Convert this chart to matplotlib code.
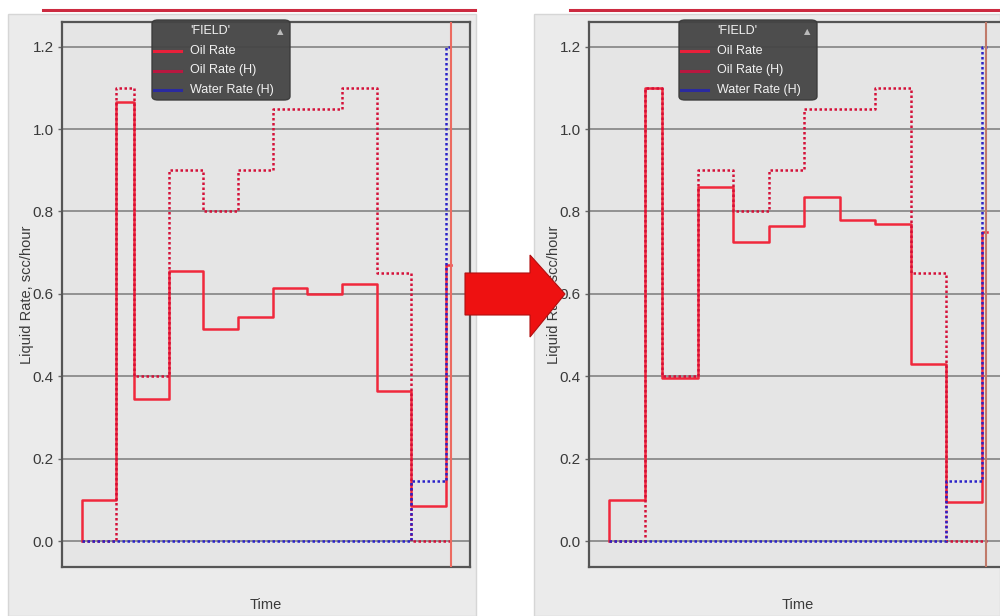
import numpy as np
import matplotlib
matplotlib.use("Agg")
import matplotlib.pyplot as plt
from matplotlib.patches import Rectangle, FancyBboxPatch, Polygon
from matplotlib.lines import Line2D

plt.rcParams['font.family'] = ['Liberation Sans', 'DejaVu Sans']

# report step boundaries (time units) and rates per step, scc/hour
t_edges = [0, 1, 1.5, 2.5, 3.5, 4.5, 5.5, 6.5, 7.5, 8.5, 9.5, 10.5, 10.65]
oil_rate_before = [0.1, 1.065, 0.345, 0.655, 0.515, 0.545, 0.615, 0.6, 0.625, 0.365, 0.085, 0.67]
oil_rate_after = [0.1, 1.1, 0.395, 0.86, 0.725, 0.765, 0.835, 0.78, 0.77, 0.43, 0.095, 0.75]
oil_rate_hist = [0, 1.1, 0.4, 0.9, 0.8, 0.9, 1.05, 1.05, 1.1, 0.65, 0, 0]
water_rate_hist = [0, 0, 0, 0, 0, 0, 0, 0, 0, 0, 0.145, 1.2]
y_ticks = [0.0, 0.2, 0.4, 0.6, 0.8, 1.0, 1.2]
legend_labels = ["Oil Rate", "Oil Rate (H)", "Water Rate (H)"]
t_marker = 10.63

W, H = 1000, 616
fig = plt.figure(figsize=(10, 6.16), dpi=100)
fig.patch.set_facecolor('white')


def px(x, y):
    return x / W, 1 - y / H


def steps(ax, values, **kw):
    x = np.r_[t_edges[0], t_edges]
    y = np.r_[0, values, values[-1]]
    ax.plot(x, y, drawstyle='steps-post', **kw)


def panel(left, right, bar_x0, bar_x1, ax_x0, ax_x1, oil_sim, marker_color):
    # gray window behind the plot + red bar on top
    x0, y0 = px(left, H)
    fig.patches.append(Rectangle((x0, y0), (right - left) / W, (H - 14) / H,
                                 transform=fig.transFigure, facecolor='#ebebeb',
                                 edgecolor='#d6d6d6', lw=1, zorder=-5))
    fig.lines.append(Line2D([bar_x0 / W, bar_x1 / W], [1 - 10 / H] * 2,
                            transform=fig.transFigure, color='#cc2a40', lw=2.2))

    ax = fig.add_axes([ax_x0 / W, 1 - 567 / H, (ax_x1 - ax_x0) / W, (567 - 22) / H])
    ax.set_facecolor('#e5e5e5')
    ax.set_xlim(-0.57, 11.19)
    ax.set_ylim(-0.063, 1.26)
    ax.set_yticks(y_ticks)
    ax.set_yticklabels([f"{v:.1f}" for v in y_ticks], fontsize=11, color='#3a3a3a')
    ax.set_xticks([])
    ax.tick_params(axis='y', length=3, width=1, color='#666666', pad=3)
    for s in ax.spines.values():
        s.set_color('#555555')
        s.set_linewidth(1.6)
    ax.grid(axis='y', color='#7a7a7a', lw=1.1)
    ax.set_axisbelow(True)

    ax.set_ylabel("Liquid Rate, scc/hour", fontsize=10.5, color='#3a3a3a')
    ax.yaxis.set_label_coords(-28 / (ax_x1 - ax_x0), 0.5)
    ax.set_xlabel("Time", fontsize=10.5, color='#3a3a3a', labelpad=22)

    steps(ax, oil_sim, color='#f0283c', lw=1.8, zorder=3)
    steps(ax, oil_rate_hist, color='#d41038', lw=1.8, ls=(0, (1, 1)), zorder=4)
    steps(ax, water_rate_hist, color='#2a22c8', lw=1.8, ls=(0, (1, 1)), zorder=5)
    ax.axvline(t_marker, color=marker_color, lw=1.5, zorder=6)

    # legend window
    lx0, ly0 = ax_x0 + 90, 20
    lw_, lh_ = 138, 80
    bx, by = px(lx0, ly0 + lh_)
    fig.patches.append(FancyBboxPatch((bx, by), lw_ / W, lh_ / H,
                                      boxstyle="round,pad=0,rounding_size=0.006",
                                      transform=fig.transFigure, facecolor='#454545',
                                      edgecolor='#3a3a3a', alpha=0.95, zorder=10))
    fig.text(*px(lx0 + 38, ly0 + 11), "'FIELD'", fontsize=9, color='#f2f2f2',
             va='center', zorder=11)
    fig.text(*px(lx0 + 128, ly0 + 12), "▲", fontsize=6, color='#bbbbbb',
             ha='center', va='center', family=['DejaVu Sans'], zorder=11)
    colors = ['#e8203a', '#b81840', '#2a2aa0']
    for i, (lab, c) in enumerate(zip(legend_labels, colors)):
        yy = ly0 + 31 + 19.5 * i
        fig.lines.append(Line2D([(lx0 + 2) / W, (lx0 + 29) / W], [1 - yy / H] * 2,
                                transform=fig.transFigure, color=c, lw=2.2, zorder=11))
        fig.text(*px(lx0 + 38, yy), lab, fontsize=9, color='#f2f2f2', va='center',
                 zorder=11)
    return ax


panel(8, 476, 43, 475, 62, 470, oil_rate_before, '#ec6a60')
panel(534, 1000, 570, 1000, 589, 1006, oil_rate_after, '#c07a6a')

# block arrow between the two windows
arrow_px = [(465, 273), (530, 273), (530, 255), (565, 294), (530, 337), (530, 315), (465, 315)]
fig.patches.append(Polygon([px(x, y) for x, y in arrow_px], closed=True,
                           transform=fig.transFigure, facecolor='#ee1111',
                           edgecolor='#b01010', lw=0.8, zorder=20))

fig.savefig("out.png", dpi=100)
